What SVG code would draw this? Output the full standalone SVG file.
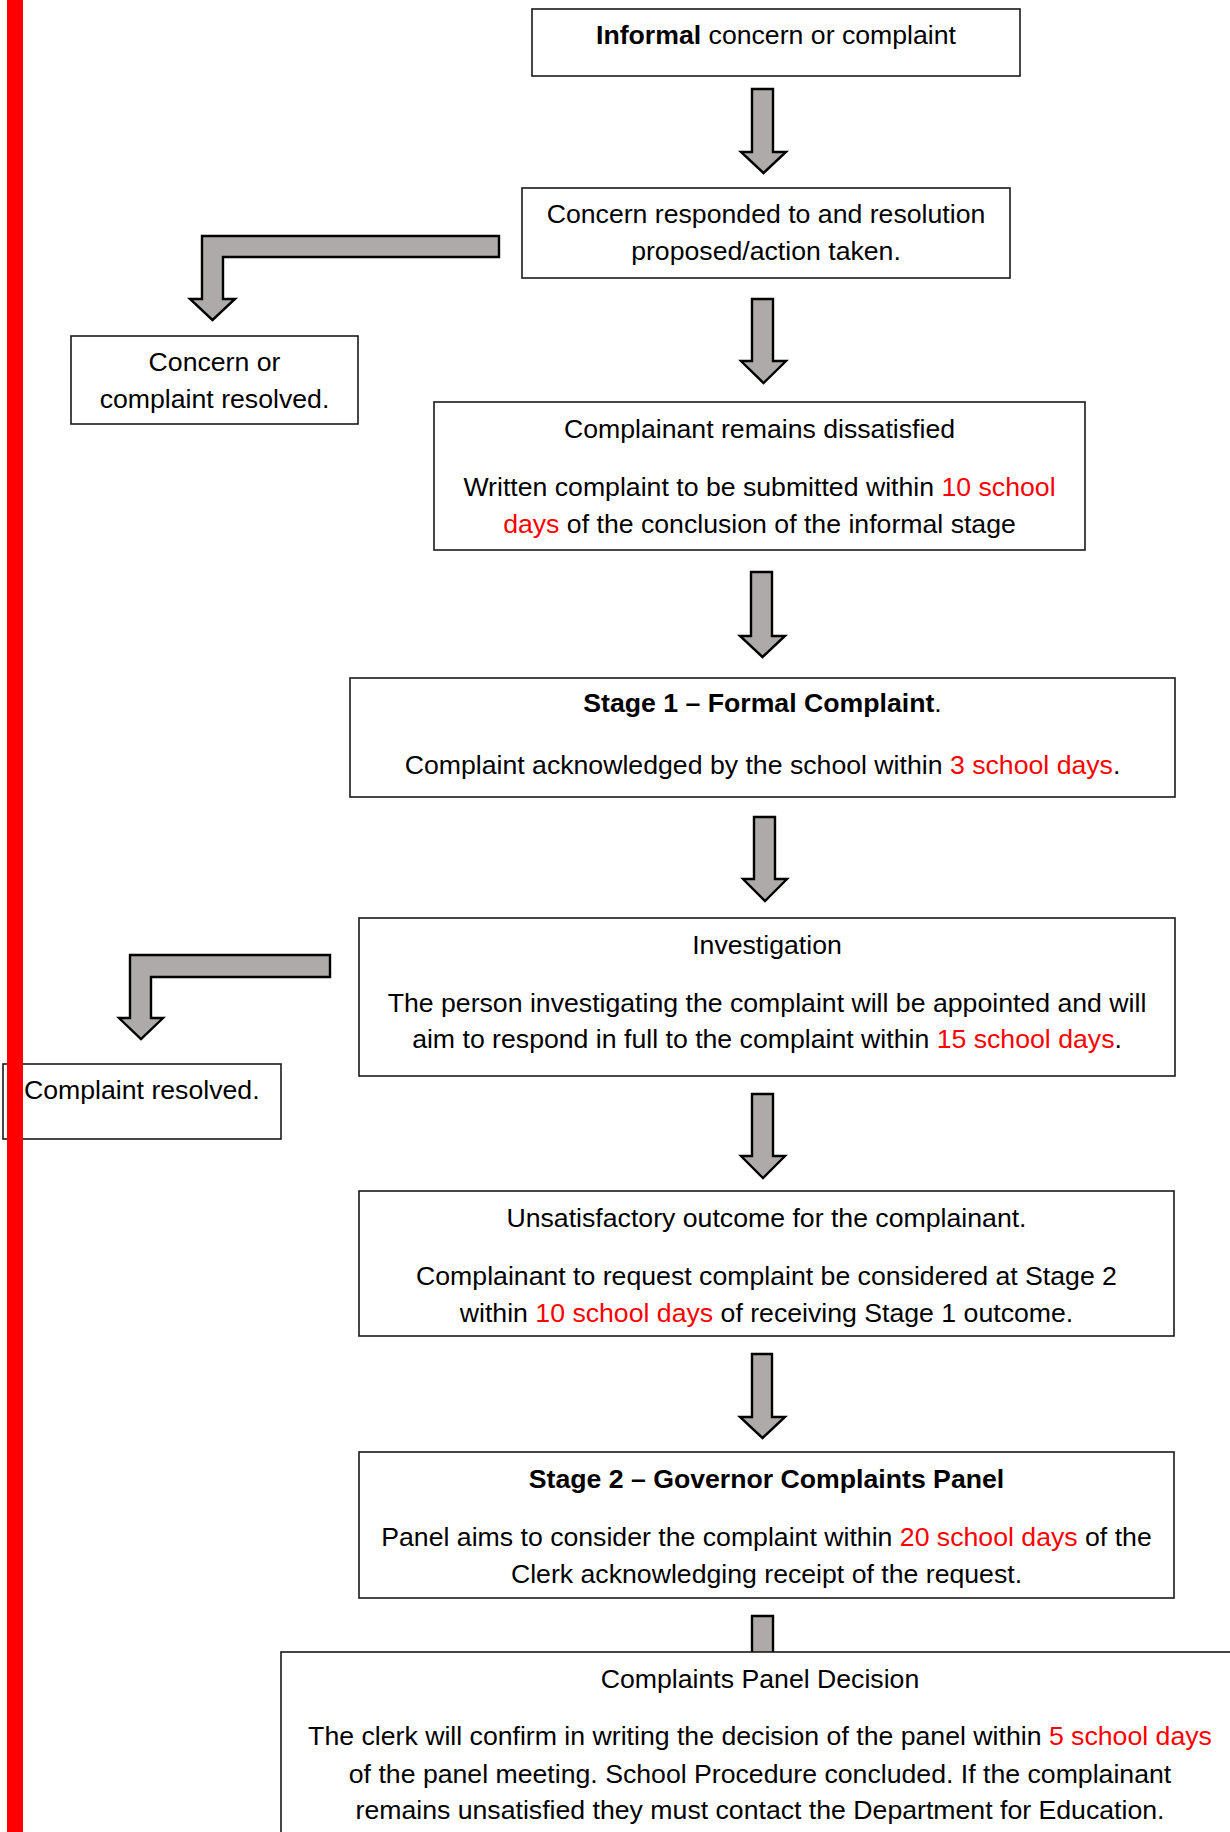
<svg xmlns="http://www.w3.org/2000/svg" width="1230" height="1832" viewBox="0 0 1230 1832">
<style>
.box{fill:#fff;stroke:#1a1a1a;stroke-width:1.6}
.arr{fill:#aeaaaa;stroke:#000;stroke-width:2.4;stroke-linejoin:miter}
.t{font-family:"Liberation Sans",Arial,sans-serif;font-size:26.67px;fill:#000;text-anchor:middle}
.l{text-anchor:start}
.b{font-weight:bold}
.r{fill:#ff0000}
</style>
<rect x="0" y="0" width="1230" height="1832" fill="#fff"/>
<g id="connectors">
<path class="arr" d="M752,89 H773 V152 H786 L763.5,173 L741,152 H752 Z"/>
<path class="arr" d="M499,236 H202 V299 H190 L212.5,320 L235,299 H223 V257 H499 Z"/>
<path class="arr" d="M752,299 H773 V361 H786 L763.5,383 L741,361 H752 Z"/>
<path class="arr" d="M751,572 H772 V636 H785 L762.5,657 L740,636 H751 Z"/>
<path class="arr" d="M754,817 H775 V879 H787 L765,901 L743,879 H754 Z"/>
<path class="arr" d="M330,955 H130 V1018 H119 L141,1039 L163,1018 H151 V977 H330 Z"/>
<path class="arr" d="M752,1094 H773 V1156 H785 L763,1178 L741,1156 H752 Z"/>
<path class="arr" d="M752,1354 H772 V1417 H785 L762.5,1438 L740,1417 H752 Z"/>
<path class="arr" d="M752,1662 V1616 H773 V1662 Z"/>
</g>
<g id="informal">
<rect class="box" x="532" y="9" width="488" height="67"/>
<text class="t" x="776" y="44"><tspan class="b">Informal</tspan> concern or complaint</text>
</g>
<g id="responded">
<rect class="box" x="522" y="188" width="488" height="90"/>
<text class="t" x="766" y="223">Concern responded to and resolution</text>
<text class="t" x="766" y="260">proposed/action taken.</text>
</g>
<g id="resolved1">
<rect class="box" x="71" y="336" width="287" height="88"/>
<text class="t" x="214.5" y="371">Concern or</text>
<text class="t" x="214.5" y="408">complaint resolved.</text>
</g>
<g id="dissatisfied">
<rect class="box" x="434" y="402" width="651" height="148"/>
<text class="t" x="759.5" y="438">Complainant remains dissatisfied</text>
<text class="t" x="759.5" y="496">Written complaint to be submitted within <tspan class="r">10 school</tspan></text>
<text class="t" x="759.5" y="533"><tspan class="r">days</tspan> of the conclusion of the informal stage</text>
</g>
<g id="stage1">
<rect class="box" x="350" y="678" width="825" height="119"/>
<text class="t" x="762.5" y="712"><tspan class="b">Stage 1 – Formal Complaint</tspan>.</text>
<text class="t" x="762.5" y="774">Complaint acknowledged by the school within <tspan class="r">3 school days</tspan>.</text>
</g>
<g id="investigation">
<rect class="box" x="359" y="918" width="816" height="158"/>
<text class="t" x="767" y="954">Investigation</text>
<text class="t" x="767" y="1012">The person investigating the complaint will be appointed and will</text>
<text class="t" x="767" y="1048">aim to respond in full to the complaint within <tspan class="r">15 school days</tspan>.</text>
</g>
<g id="resolved2">
<rect class="box" x="3" y="1064" width="278" height="75"/>
<text class="t l" x="24" y="1099">Complaint resolved.</text>
</g>
<g id="unsatisfactory">
<rect class="box" x="359" y="1191" width="815" height="145"/>
<text class="t" x="766.5" y="1227">Unsatisfactory outcome for the complainant.</text>
<text class="t" x="766.5" y="1285">Complainant to request complaint be considered at Stage 2</text>
<text class="t" x="766.5" y="1322">within <tspan class="r">10 school days</tspan> of receiving Stage 1 outcome.</text>
</g>
<g id="stage2">
<rect class="box" x="359" y="1452" width="815" height="146"/>
<text class="t b" x="766.5" y="1488">Stage 2 – Governor Complaints Panel</text>
<text class="t" x="766.5" y="1546">Panel aims to consider the complaint within <tspan class="r">20 school days</tspan> of the</text>
<text class="t" x="766.5" y="1583">Clerk acknowledging receipt of the request.</text>
</g>
<g id="decision">
<rect class="box" x="281" y="1652" width="1000" height="300"/>
<text class="t" x="760" y="1688">Complaints Panel Decision</text>
<text class="t" x="760" y="1745">The clerk will confirm in writing the decision of the panel within <tspan class="r">5 school days</tspan></text>
<text class="t" x="760" y="1783">of the panel meeting. School Procedure concluded. If the complainant</text>
<text class="t" x="760" y="1819">remains unsatisfied they must contact the Department for Education.</text>
</g>
<rect id="redbar" x="7" y="0" width="16" height="1832" fill="#ff0000"/>
</svg>
